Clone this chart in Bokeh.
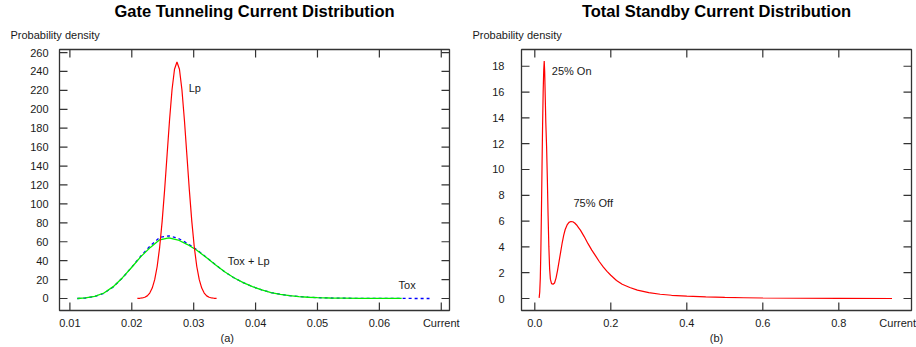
from bokeh.plotting import figure
from bokeh.layouts import row
from bokeh.models import Range1d, FixedTicker, Title
from bokeh.embed import file_html
from bokeh.resources import INLINE

FONT = "Liberation Sans"
TXT = "#1a1a1a"
FRAME = "#333333"

# ---------------- data: panel (a) ----------------
lp_x = [0.0209, 0.0213, 0.0217, 0.0221, 0.0225, 0.0229, 0.0233, 0.0237, 0.0241, 0.0245,
        0.0249, 0.0253, 0.0257, 0.0261, 0.0265, 0.0269, 0.0273, 0.0277, 0.0281, 0.0285,
        0.0289, 0.0293, 0.0297, 0.0301, 0.0305, 0.0309, 0.0313, 0.0317, 0.0321, 0.0325,
        0.0329, 0.0333, 0.0337]
lp_y = [0.08, 0.22, 0.55, 1.27, 2.78, 5.7, 11.0, 19.9, 33.8, 54.1,
        81.2, 114.5, 151.6, 188.7, 220.6, 242.3, 250.0, 242.3, 220.6, 188.7,
        151.6, 114.5, 81.2, 54.1, 33.8, 19.9, 11.0, 5.7, 2.78, 1.27,
        0.55, 0.22, 0.08]

toxlp_x = [0.0112, 0.0125, 0.014, 0.0155, 0.017, 0.0185, 0.020, 0.0215, 0.023, 0.0245,
           0.026, 0.0275, 0.029, 0.0305, 0.032, 0.0335, 0.035, 0.0365, 0.038, 0.0395,
           0.041, 0.0425, 0.044, 0.0455, 0.047, 0.0485, 0.050, 0.052, 0.054, 0.057,
           0.060, 0.0636]
toxlp_y = [0.0, 0.6, 2.3, 5.8, 12.5, 22.0, 33.0, 44.5, 54.0, 62.0,
           64.0, 61.8, 57.0, 51.0, 43.5, 35.7, 28.2, 21.9, 16.8, 12.5,
           9.0, 6.3, 4.4, 3.0, 2.0, 1.3, 0.9, 0.5, 0.3, 0.1,
           0.05, 0.02]

tox_x = [0.0112, 0.0125, 0.014, 0.0155, 0.017, 0.0185, 0.020, 0.0215, 0.023, 0.0245,
         0.026, 0.0275, 0.029, 0.0305, 0.032, 0.0335, 0.035, 0.0365, 0.038, 0.0395,
         0.041, 0.0425, 0.044, 0.0455, 0.047, 0.0485, 0.050, 0.052, 0.054, 0.057,
         0.060, 0.0636, 0.066, 0.0681]
tox_y = [0.0, 0.5, 2.1, 5.5, 12.2, 21.8, 33.2, 45.2, 55.8, 64.6,
         66.3, 63.6, 58.2, 51.6, 43.8, 35.8, 28.2, 21.9, 16.8, 12.5,
         9.0, 6.3, 4.4, 3.0, 2.0, 1.3, 0.9, 0.5, 0.3, 0.1,
         0.05, 0.02, 0.01, 0.0]

a_xticks = [0.01, 0.02, 0.03, 0.04, 0.05, 0.06, 0.07]
a_xlabels = ["0.01", "0.02", "0.03", "0.04", "0.05", "0.06", "Current"]
a_yticks = [0, 20, 40, 60, 80, 100, 120, 140, 160, 180, 200, 220, 240, 260]

# ---------------- data: panel (b) ----------------
tot_x = [0.0114, 0.013, 0.0145, 0.016, 0.0175, 0.019, 0.0205, 0.022, 0.0235, 0.0248,
         0.026, 0.0275, 0.029, 0.031, 0.033, 0.035, 0.037, 0.039, 0.041, 0.044,
         0.048, 0.052, 0.056, 0.060, 0.064, 0.068, 0.072, 0.076, 0.080, 0.085,
         0.090, 0.095, 0.100, 0.105, 0.110, 0.115, 0.120, 0.130, 0.140, 0.150,
         0.160, 0.170, 0.180, 0.190, 0.200, 0.215, 0.230, 0.250, 0.270, 0.300,
         0.330, 0.360, 0.400, 0.450, 0.500, 0.550, 0.600, 0.700, 0.800, 0.940]
tot_y = [0.05, 0.5, 1.6, 3.8, 6.8, 10.2, 13.4, 16.0, 17.7, 18.4,
         17.6, 15.6, 13.6, 11.8, 9.3, 6.4, 4.0, 2.3, 1.5, 1.15,
         1.1, 1.2, 1.6, 2.2, 2.9, 3.6, 4.3, 4.9, 5.35, 5.7,
         5.9, 5.97, 5.95, 5.85, 5.7, 5.5, 5.3, 4.8, 4.25, 3.75,
         3.3, 2.85, 2.45, 2.1, 1.8, 1.4, 1.1, 0.85, 0.65, 0.45,
         0.33, 0.25, 0.18, 0.12, 0.08, 0.06, 0.04, 0.02, 0.01, 0.0]

b_xticks = [0.0, 0.2, 0.4, 0.6, 0.8]
b_xlabels = ["0.0", "0.2", "0.4", "0.6", "0.8"]
b_xname_pos = 0.955          # where the "Current" axis name sits on the x axis
b_yticks = [0, 2, 4, 6, 8, 10, 12, 14, 16, 18]

H = 347
TOP, BOTTOM = 49, 37
TICK = 8


def style_axis(ax, ticks, labels, standoff):
    ax.ticker = FixedTicker(ticks=ticks)
    ax.major_label_overrides = {t: l for t, l in zip(ticks, labels)}
    ax.major_tick_in = 0
    ax.major_tick_out = 0
    ax.minor_tick_in = 0
    ax.minor_tick_out = 0
    ax.axis_line_color = None
    ax.major_label_text_font = FONT
    ax.major_label_text_color = TXT
    ax.major_label_text_font_size = "11px"
    ax.major_label_standoff = standoff


def make_fig(width, xr, yr, bl, br):
    p = figure(width=width, height=H, x_range=Range1d(*xr), y_range=Range1d(*yr),
               output_backend="svg", toolbar_location=None, title=None,
               min_border_left=bl, min_border_right=br, min_border_top=TOP, min_border_bottom=BOTTOM)
    p.xgrid.visible = False
    p.ygrid.visible = False
    p.outline_line_color = FRAME
    p.outline_line_width = 1.3
    p.outline_line_alpha = 1.0
    p.background_fill_color = "white"
    p.border_fill_color = "white"
    return p


def mirror_ticks(p, width, xr, yr, bl, br, xticks, yticks):
    # inward tick marks on all four sides of the frame
    fw = width - bl - br
    fh = H - TOP - BOTTOM
    dx = (xr[1] - xr[0]) / fw * TICK
    dy = (yr[1] - yr[0]) / fh * TICK
    x0 = list(xticks) * 2
    y0 = [yr[0]] * len(xticks) + [yr[1]] * len(xticks)
    y1 = [yr[0] + dy] * len(xticks) + [yr[1] - dy] * len(xticks)
    p.segment(x0=x0, y0=y0, x1=x0, y1=y1, line_color=FRAME, line_width=1.2)
    yy = list(yticks) * 2
    xa = [xr[0]] * len(yticks) + [xr[1]] * len(yticks)
    xb = [xr[0] + dx] * len(yticks) + [xr[1] - dx] * len(yticks)
    p.segment(x0=xa, y0=yy, x1=xb, y1=yy, line_color=FRAME, line_width=1.2)


def add_titles(p, main, ylab, ylab_offset, sub, sub_align, sub_offset):
    p.add_layout(Title(text=ylab, align="left", offset=ylab_offset, text_font=FONT,
                       text_font_size="11px", text_font_style="normal", text_color=TXT,
                       standoff=18), "above")
    p.add_layout(Title(text=main, align="center", text_font=FONT, text_font_size="16.5px",
                       text_font_style="bold", text_color="black", standoff=-5), "above")
    p.add_layout(Title(text=sub, align=sub_align, offset=sub_offset, text_font=FONT,
                       text_font_size="11px", text_font_style="normal", text_color=TXT,
                       standoff=-3), "below")


def note(p, x, y, text):
    p.text(x=[x], y=[y], text=[text], text_font={"value": FONT}, text_font_size="11px",
           text_color=TXT, text_align="left", text_baseline="middle")


# ---------------- panel (a) ----------------
A_W, A_XR, A_YR, A_BL, A_BR = 460, (0.00832, 0.07133), (-12.7, 263.2), 59, 11
pa = make_fig(A_W, A_XR, A_YR, A_BL, A_BR)
style_axis(pa.xaxis[0], a_xticks, a_xlabels, 6)
style_axis(pa.yaxis[0], a_yticks, [str(v) for v in a_yticks], 11)
mirror_ticks(pa, A_W, A_XR, A_YR, A_BL, A_BR, a_xticks, a_yticks)

pa.line(tox_x, tox_y, line_color="#0000ff", line_width=1.3, line_dash="3 3")
pa.line(toxlp_x, toxlp_y, line_color="#00ee00", line_width=1.3)
pa.line(lp_x, lp_y, line_color="#ff0000", line_width=1.2)

note(pa, 0.0292, 223, "Lp")
note(pa, 0.0355, 39.2, "Tox + Lp")
note(pa, 0.0631, 13.8, "Tox")
add_titles(pa, "Gate Tunneling Current Distribution", "Probability density", -49, "(a)", "left", 161)

# ---------------- panel (b) ----------------
B_W, B_XR, B_YR, B_BL, B_BR = 456, (-0.035, 0.9913), (-0.93, 19.30), 61, 5
pb = make_fig(B_W, B_XR, B_YR, B_BL, B_BR)
style_axis(pb.xaxis[0], b_xticks + [b_xname_pos], b_xlabels + ["Current"], 6)
style_axis(pb.yaxis[0], b_yticks, [str(v) for v in b_yticks], 17)
mirror_ticks(pb, B_W, B_XR, B_YR, B_BL, B_BR, b_xticks, b_yticks)

pb.line(tot_x, tot_y, line_color="#ff0000", line_width=1.2)

note(pb, 0.0447, 17.6, "25% On")
note(pb, 0.1018, 7.4, "75% Off")
add_titles(pb, "Total Standby Current Distribution", "Probability density", -49, "(b)", "center", 0)

layout = row(pa, pb)
open("out.html", "w").write(file_html(layout, INLINE))
